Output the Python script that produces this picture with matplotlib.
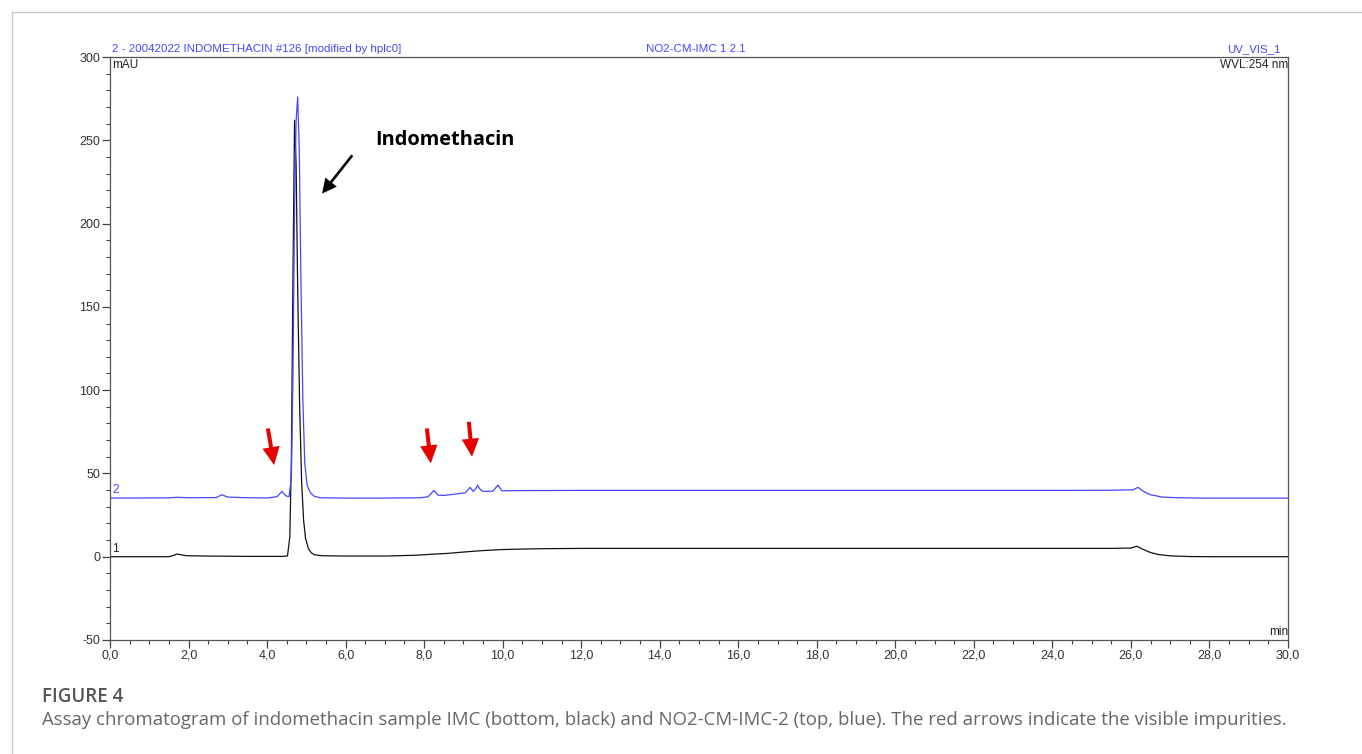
import matplotlib
matplotlib.use("Agg")
from matplotlib import pyplot as plt
from matplotlib.lines import Line2D

# trace 1 (sample IMC, black)
imc_time = [0.0, 1.5, 1.62, 1.7, 1.8, 1.95, 2.5, 3.0, 3.5, 4.0, 4.4, 4.52, 4.58, 4.62,
            4.66, 4.70, 4.74, 4.78, 4.83, 4.88, 4.93, 4.98, 5.05, 5.12, 5.2, 5.4,
            6.0, 7.0, 7.8, 8.2, 8.6, 9.0, 9.5, 10.0, 10.5, 11.0, 12.0, 14.0, 16.0,
            18.0, 20.0, 22.0, 24.0, 25.5, 26.0, 26.15, 26.3, 26.5, 26.7, 27.0, 27.5,
            28.0, 29.0, 30.0]
imc_mau = [0.0, 0.0, 0.8, 1.6, 1.2, 0.6, 0.4, 0.3, 0.2, 0.2, 0.2, 0.5, 12.0, 60.0,
           170.0, 262.0, 235.0, 160.0, 90.0, 45.0, 22.0, 11.0, 5.0, 2.5, 1.2, 0.6,
           0.4, 0.4, 0.9, 1.5, 2.0, 2.8, 3.7, 4.3, 4.6, 4.8, 5.0, 5.0, 5.0,
           5.0, 5.0, 5.0, 5.0, 5.0, 5.2, 6.3, 4.5, 2.5, 1.3, 0.5, 0.1,
           0.0, 0.0, 0.0]

# trace 2 (NO2-CM-IMC-2, blue)
no2_time = [0.0, 1.5, 1.7, 2.0, 2.7, 2.85, 3.0, 3.5, 4.0, 4.25, 4.38, 4.48, 4.56, 4.62,
            4.66, 4.70, 4.74, 4.78, 4.82, 4.86, 4.91, 4.96, 5.02, 5.1, 5.2, 5.35,
            6.0, 7.0, 7.9, 8.1, 8.25, 8.35, 8.5, 8.8, 9.05, 9.17, 9.25, 9.32, 9.36,
            9.42, 9.5, 9.75, 9.88, 9.98, 10.5, 12.0, 14.0, 16.0, 18.0, 20.0, 22.0,
            24.0, 25.5, 26.05, 26.18, 26.35, 26.5, 26.8, 27.2, 27.8, 29.0, 30.0]
no2_mau = [35.2, 35.3, 35.7, 35.4, 35.5, 37.2, 35.8, 35.4, 35.3, 36.0, 39.2, 36.5, 36.0, 48.0,
           110.0, 210.0, 262.0, 276.0, 245.0, 170.0, 95.0, 56.0, 43.0, 38.5, 36.3, 35.4,
           35.2, 35.2, 35.4, 36.0, 39.8, 37.0, 36.8, 37.6, 38.4, 41.6, 39.2, 41.0, 43.0,
           40.6, 39.2, 39.4, 43.0, 39.6, 39.7, 39.8, 39.8, 39.8, 39.8, 39.8, 39.8,
           39.8, 39.9, 40.2, 41.6, 38.8, 37.2, 35.8, 35.4, 35.2, 35.2, 35.2]

x_ticks = [0, 2, 4, 6, 8, 10, 12, 14, 16, 18, 20, 22, 24, 26, 28, 30]
x_tick_labels = ["0,0", "2,0", "4,0", "6,0", "8,0", "10,0", "12,0", "14,0", "16,0",
                 "18,0", "20,0", "22,0", "24,0", "26,0", "28,0", "30,0"]
y_ticks = [-50, 0, 50, 100, 150, 200, 250, 300]
y_tick_labels = ["-50", "0", "50", "100", "150", "200", "250", "300"]

# impurity arrows: (tail time, tail mAU, tip time, tip mAU)
impurity_arrows = [(4.02, 77.0, 4.18, 55.0),
                   (8.07, 77.0, 8.17, 56.0),
                   (9.14, 81.0, 9.22, 60.0)]

BLUE = "#4646ff"
TICK_TXT = "#333333"

plt.rcParams['font.family'] = ['Liberation Sans', 'DejaVu Sans']

fig = plt.figure(figsize=(13.62, 7.54), dpi=100)
ax = fig.add_axes([110 / 1362, 1 - 640 / 754, 1178 / 1362, 583 / 754])

ax.plot(imc_time, imc_mau, color="#111111", lw=0.9)
ax.plot(no2_time, no2_mau, color=BLUE, lw=0.9)

ax.set_xlim(0, 30)
ax.set_ylim(-50, 300)
ax.set_xticks(x_ticks)
ax.set_xticklabels(x_tick_labels)
ax.set_yticks(y_ticks)
ax.set_yticklabels(y_tick_labels)
ax.set_xticks([i * 0.5 for i in range(61)], minor=True)
ax.set_yticks(list(range(-50, 301, 10)), minor=True)
ax.tick_params(which='major', length=6, width=0.9, color="#444444",
               labelsize=9, labelcolor=TICK_TXT, pad=1)
ax.tick_params(which='minor', length=3, width=0.8, color="#444444")
for s in ax.spines.values():
    s.set_color("#555555")
    s.set_linewidth(0.9)

# software header texts
ax.text(0.05, 302, "2 - 20042022 INDOMETHACIN #126 [modified by hplc0]",
        color=BLUE, fontsize=8.25, va='bottom', ha='left')
ax.text(14.92, 302, "NO2-CM-IMC 1 2.1", color=BLUE, fontsize=8.25, va='bottom', ha='center')
ax.text(29.8, 302, "UV_VIS_1", color=BLUE, fontsize=8.25, va='bottom', ha='right')
ax.text(30, 299, "WVL:254 nm", color="#222222", fontsize=8.5, va='top', ha='right')
ax.text(0.05, 299, "mAU", color="#222222", fontsize=8.5, va='top', ha='left')
ax.text(30, -49, "min", color="#222222", fontsize=8.5, va='bottom', ha='right')
ax.text(0.05, 36.5, "2", color=BLUE, fontsize=8.5, va='bottom', ha='left')
ax.text(0.05, 0.8, "1", color="#222222", fontsize=8.5, va='bottom', ha='left')

# annotations
ax.text(6.75, 250, "Indomethacin", fontsize=14.4, fontweight='bold',
        family=['Open Sans', 'DejaVu Sans'], va='center', ha='left', color="black")
ax.annotate("", xy=(5.4, 218), xytext=(6.17, 241),
            arrowprops=dict(width=1.9, headwidth=10.5, headlength=10.5, facecolor='black',
                            edgecolor='none', shrink=0))
for t0, y0, t1, y1 in impurity_arrows:
    ax.annotate("", xy=(t1, y1), xytext=(t0, y0),
                arrowprops=dict(width=2.9, headwidth=12.5, headlength=13,
                                facecolor='#e60000', edgecolor='none', shrink=0))

# page frame lines
fig.add_artist(Line2D([12 / 1362, 12 / 1362], [0, 1 - 12 / 754], color="#c8c8c8", lw=1))
fig.add_artist(Line2D([12 / 1362, 1], [1 - 12 / 754, 1 - 12 / 754], color="#c8c8c8", lw=1))

# caption
fig.text(42 / 1362, 1 - 697 / 754, "FIGURE 4", fontsize=13.5, color="#555555",
         fontweight='semibold', family=['Open Sans', 'DejaVu Sans'], va='center', ha='left')
fig.text(42 / 1362, 1 - 720 / 754,
         "Assay chromatogram of indomethacin sample IMC (bottom, black) and NO2-CM-IMC-2 "
         "(top, blue). The red arrows indicate the visible impurities.",
         fontsize=13.4, color="#666666", family=['Open Sans', 'DejaVu Sans'],
         va='center', ha='left')

fig.savefig("out.png", dpi=100)
